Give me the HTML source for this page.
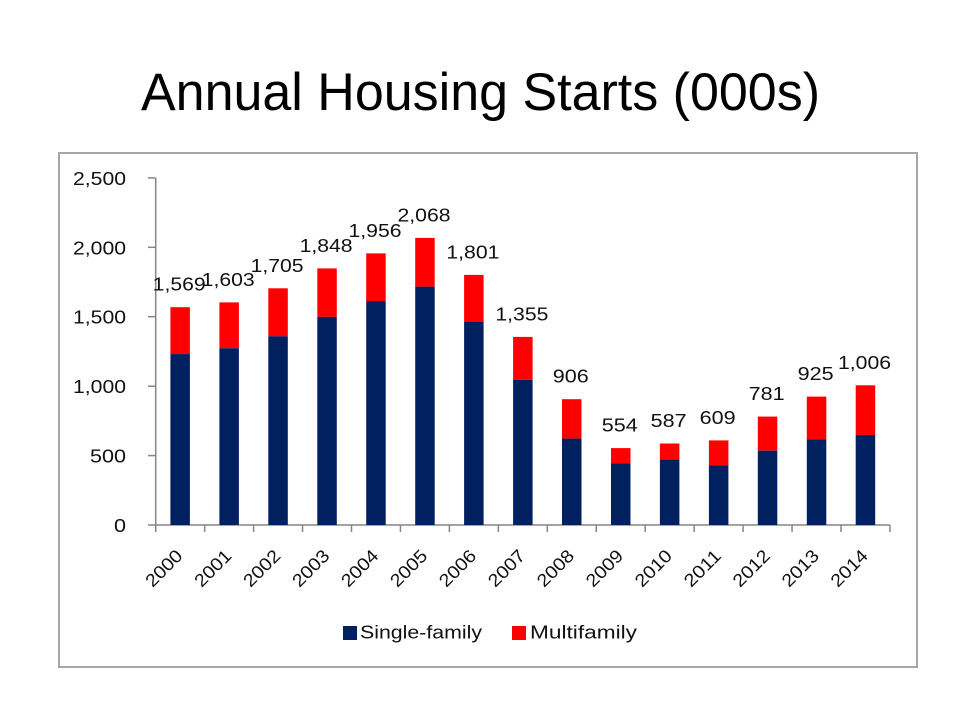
<!DOCTYPE html>
<html>
<head>
<meta charset="utf-8">
<style>
html,body{margin:0;padding:0;background:#fff;}
svg{display:block;}
text{font-family:"Liberation Sans",sans-serif;}
</style>
</head>
<body>
<svg width="960" height="720" viewBox="0 0 960 720" xmlns="http://www.w3.org/2000/svg">
<rect x="0" y="0" width="960" height="720" fill="#fff"/>
<text x="141" y="110" font-size="53" fill="#000" textLength="679" lengthAdjust="spacingAndGlyphs">Annual Housing Starts (000s)</text>
<rect x="59" y="153" width="858" height="514" fill="#fff" stroke="#a6a6a6" stroke-width="2"/>
<g stroke="#868686" stroke-width="1.5" fill="none">
<line x1="155.7" y1="177.9" x2="155.7" y2="525"/>
<line x1="148" y1="177.9" x2="155.7" y2="177.9"/>
<line x1="148" y1="247.3" x2="155.7" y2="247.3"/>
<line x1="148" y1="316.7" x2="155.7" y2="316.7"/>
<line x1="148" y1="386.2" x2="155.7" y2="386.2"/>
<line x1="148" y1="455.6" x2="155.7" y2="455.6"/>
<line x1="148" y1="525" x2="890" y2="525"/>
</g>
<g fill="#111" font-size="18" text-anchor="end">
<text x="126" y="184.9" textLength="53" lengthAdjust="spacingAndGlyphs">2,500</text>
<text x="126" y="254.3" textLength="53" lengthAdjust="spacingAndGlyphs">2,000</text>
<text x="126" y="323.7" textLength="53" lengthAdjust="spacingAndGlyphs">1,500</text>
<text x="126" y="393.2" textLength="53" lengthAdjust="spacingAndGlyphs">1,000</text>
<text x="126" y="462.6" textLength="36" lengthAdjust="spacingAndGlyphs">500</text>
<text x="126" y="532" textLength="12" lengthAdjust="spacingAndGlyphs">0</text>
</g>
<rect x="343" y="626" width="14" height="14" fill="#002060"/>
<text x="360" y="638.5" font-size="18" fill="#111" textLength="122" lengthAdjust="spacingAndGlyphs">Single-family</text>
<rect x="512" y="626" width="14" height="14" fill="#ff0000"/>
<text x="530" y="638.5" font-size="18" fill="#111" textLength="107" lengthAdjust="spacingAndGlyphs">Multifamily</text>
<g stroke="#868686" stroke-width="1.5">
<line x1="155.7" y1="525" x2="155.7" y2="532"/>
<line x1="204.65" y1="525" x2="204.65" y2="532"/>
<line x1="253.6" y1="525" x2="253.6" y2="532"/>
<line x1="302.55" y1="525" x2="302.55" y2="532"/>
<line x1="351.5" y1="525" x2="351.5" y2="532"/>
<line x1="400.45" y1="525" x2="400.45" y2="532"/>
<line x1="449.4" y1="525" x2="449.4" y2="532"/>
<line x1="498.35" y1="525" x2="498.35" y2="532"/>
<line x1="547.3" y1="525" x2="547.3" y2="532"/>
<line x1="596.25" y1="525" x2="596.25" y2="532"/>
<line x1="645.2" y1="525" x2="645.2" y2="532"/>
<line x1="694.15" y1="525" x2="694.15" y2="532"/>
<line x1="743.1" y1="525" x2="743.1" y2="532"/>
<line x1="792.05" y1="525" x2="792.05" y2="532"/>
<line x1="841" y1="525" x2="841" y2="532"/>
<line x1="889.95" y1="525" x2="889.95" y2="532"/>
</g>
<g>
<rect x="170.4" y="307.2" width="19.5" height="47.0" fill="#ff0000"/><rect x="170.4" y="354.1" width="19.5" height="170.9" fill="#002060"/>
<rect x="219.4" y="302.4" width="19.5" height="45.9" fill="#ff0000"/><rect x="219.4" y="348.3" width="19.5" height="176.7" fill="#002060"/>
<rect x="268.3" y="288.3" width="19.5" height="48.0" fill="#ff0000"/><rect x="268.3" y="336.3" width="19.5" height="188.7" fill="#002060"/>
<rect x="317.3" y="268.4" width="19.5" height="48.5" fill="#ff0000"/><rect x="317.3" y="316.9" width="19.5" height="208.1" fill="#002060"/>
<rect x="366.2" y="253.4" width="19.5" height="48.1" fill="#ff0000"/><rect x="366.2" y="301.3" width="19.5" height="223.7" fill="#002060"/>
<rect x="415.2" y="237.9" width="19.5" height="48.9" fill="#ff0000"/><rect x="415.2" y="286.7" width="19.5" height="238.3" fill="#002060"/>
<rect x="464.1" y="274.9" width="19.5" height="46.6" fill="#ff0000"/><rect x="464.1" y="321.6" width="19.5" height="203.4" fill="#002060"/>
<rect x="513.1" y="336.9" width="19.5" height="42.9" fill="#ff0000"/><rect x="513.1" y="379.8" width="19.5" height="145.2" fill="#002060"/>
<rect x="562.0" y="399.2" width="19.5" height="39.4" fill="#ff0000"/><rect x="562.0" y="438.6" width="19.5" height="86.4" fill="#002060"/>
<rect x="611.0" y="448.1" width="19.5" height="15.1" fill="#ff0000"/><rect x="611.0" y="463.2" width="19.5" height="61.8" fill="#002060"/>
<rect x="659.9" y="443.5" width="19.5" height="16.1" fill="#ff0000"/><rect x="659.9" y="459.6" width="19.5" height="65.4" fill="#002060"/>
<rect x="708.9" y="440.4" width="19.5" height="24.8" fill="#ff0000"/><rect x="708.9" y="465.2" width="19.5" height="59.8" fill="#002060"/>
<rect x="757.8" y="416.6" width="19.5" height="34.1" fill="#ff0000"/><rect x="757.8" y="450.7" width="19.5" height="74.3" fill="#002060"/>
<rect x="806.8" y="396.6" width="19.5" height="42.6" fill="#ff0000"/><rect x="806.8" y="439.2" width="19.5" height="85.8" fill="#002060"/>
<rect x="855.7" y="385.3" width="19.5" height="49.7" fill="#ff0000"/><rect x="855.7" y="435.0" width="19.5" height="90.0" fill="#002060"/>
</g>
<g fill="#111" font-size="18" text-anchor="middle">
<text x="179.2" y="290.7" textLength="53" lengthAdjust="spacingAndGlyphs">1,569</text>
<text x="228.2" y="285.9" textLength="53" lengthAdjust="spacingAndGlyphs">1,603</text>
<text x="277.1" y="271.8" textLength="53" lengthAdjust="spacingAndGlyphs">1,705</text>
<text x="326.1" y="251.9" textLength="53" lengthAdjust="spacingAndGlyphs">1,848</text>
<text x="375.0" y="236.9" textLength="53" lengthAdjust="spacingAndGlyphs">1,956</text>
<text x="424.0" y="221.4" textLength="53" lengthAdjust="spacingAndGlyphs">2,068</text>
<text x="472.9" y="258.4" textLength="53" lengthAdjust="spacingAndGlyphs">1,801</text>
<text x="521.9" y="320.4" textLength="53" lengthAdjust="spacingAndGlyphs">1,355</text>
<text x="570.8" y="382.7" textLength="36" lengthAdjust="spacingAndGlyphs">906</text>
<text x="619.8" y="431.6" textLength="36" lengthAdjust="spacingAndGlyphs">554</text>
<text x="668.7" y="427.0" textLength="36" lengthAdjust="spacingAndGlyphs">587</text>
<text x="717.7" y="423.9" textLength="36" lengthAdjust="spacingAndGlyphs">609</text>
<text x="766.6" y="400.1" textLength="36" lengthAdjust="spacingAndGlyphs">781</text>
<text x="815.6" y="380.1" textLength="36" lengthAdjust="spacingAndGlyphs">925</text>
<text x="864.5" y="368.8" textLength="53" lengthAdjust="spacingAndGlyphs">1,006</text>
</g>
<g fill="#111" font-size="18" text-anchor="end">
<text transform="translate(183.7,557) rotate(-45)" textLength="44" lengthAdjust="spacingAndGlyphs">2000</text>
<text transform="translate(232.7,557) rotate(-45)" textLength="44" lengthAdjust="spacingAndGlyphs">2001</text>
<text transform="translate(281.6,557) rotate(-45)" textLength="44" lengthAdjust="spacingAndGlyphs">2002</text>
<text transform="translate(330.6,557) rotate(-45)" textLength="44" lengthAdjust="spacingAndGlyphs">2003</text>
<text transform="translate(379.5,557) rotate(-45)" textLength="44" lengthAdjust="spacingAndGlyphs">2004</text>
<text transform="translate(428.5,557) rotate(-45)" textLength="44" lengthAdjust="spacingAndGlyphs">2005</text>
<text transform="translate(477.4,557) rotate(-45)" textLength="44" lengthAdjust="spacingAndGlyphs">2006</text>
<text transform="translate(526.4,557) rotate(-45)" textLength="44" lengthAdjust="spacingAndGlyphs">2007</text>
<text transform="translate(575.3,557) rotate(-45)" textLength="44" lengthAdjust="spacingAndGlyphs">2008</text>
<text transform="translate(624.3,557) rotate(-45)" textLength="44" lengthAdjust="spacingAndGlyphs">2009</text>
<text transform="translate(673.2,557) rotate(-45)" textLength="44" lengthAdjust="spacingAndGlyphs">2010</text>
<text transform="translate(722.2,557) rotate(-45)" textLength="44" lengthAdjust="spacingAndGlyphs">2011</text>
<text transform="translate(771.1,557) rotate(-45)" textLength="44" lengthAdjust="spacingAndGlyphs">2012</text>
<text transform="translate(820.1,557) rotate(-45)" textLength="44" lengthAdjust="spacingAndGlyphs">2013</text>
<text transform="translate(869.0,557) rotate(-45)" textLength="44" lengthAdjust="spacingAndGlyphs">2014</text>
</g>
</svg>
</body>
</html>
